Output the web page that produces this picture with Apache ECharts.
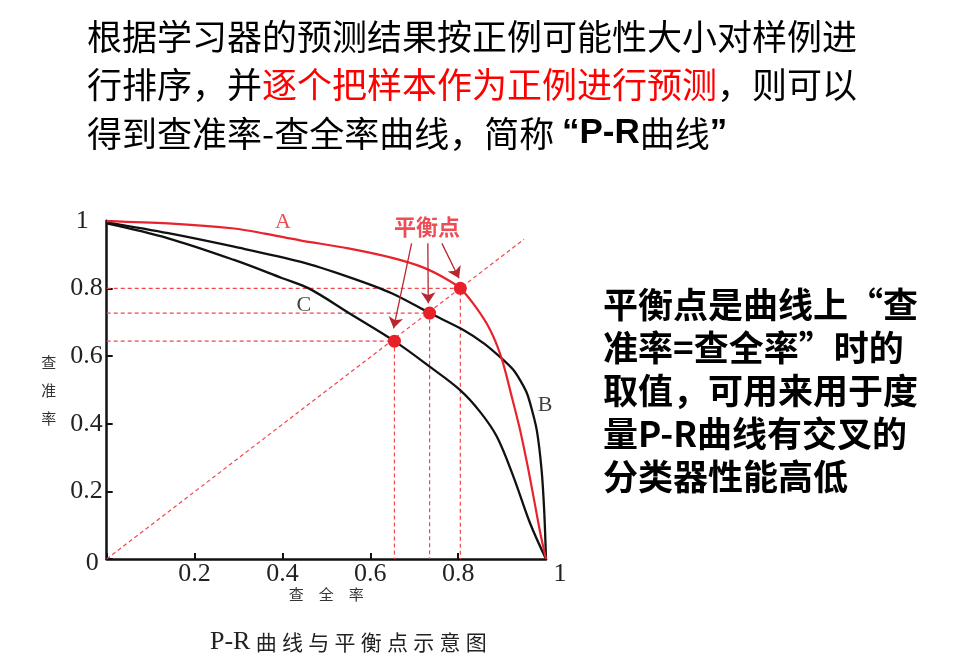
<!DOCTYPE html>
<html>
<head>
<meta charset="utf-8">
<script src="https://cdn.jsdelivr.net/npm/echarts@6/dist/echarts.min.js"></script>
<style>
  html, body { margin: 0; padding: 0; background: #fff; }
  #main { width: 964px; height: 657px; }
</style>
</head>
<body>
<div id="main"></div>
<script>
// P-R 曲线数据 (查全率, 查准率)
const curveA = [[0,0.999],[0.14,0.992],[0.29,0.977],[0.36,0.962],[0.44,0.942],[0.55,0.918],[0.65,0.89],[0.72,0.862],[0.77,0.83],[0.805,0.80],[0.84,0.745],[0.873,0.677],[0.899,0.593],[0.922,0.48],[0.941,0.381],[0.96,0.263],[0.975,0.16],[0.988,0.07],[1,0]];
const curveB = [[0,0.995],[0.14,0.963],[0.29,0.923],[0.44,0.879],[0.55,0.834],[0.65,0.785],[0.735,0.727],[0.812,0.677],[0.86,0.636],[0.899,0.593],[0.925,0.56],[0.941,0.529],[0.955,0.495],[0.964,0.46],[0.979,0.381],[0.99,0.263],[0.996,0.14],[1,0]];
const curveC = [[0,0.992],[0.14,0.948],[0.29,0.884],[0.40,0.83],[0.46,0.80],[0.554,0.725],[0.655,0.644],[0.736,0.568],[0.804,0.50],[0.85,0.435],[0.888,0.362],[0.926,0.243],[0.964,0.105],[1,0]];
// 平衡点
const balancePts = [[0.805,0.80],[0.735,0.727],[0.655,0.644]];
const diagonal = [[0,0],[0.95,0.945]];
const arrowStarts = [[0.694,0.933],[0.731,0.933],[0.763,0.933]];
const arrowEnds = [[0.653,0.682],[0.732,0.756],[0.802,0.830]];
const curveNames = ['A','B','C'];
const curveNamePos = [[0.401,0.996],[0.998,0.455],[0.449,0.751]];
const balanceLabelPos = [0.729,0.981];

const titleLines = [
  '根据学习器的预测结果按正例可能性大小对样例进',
  '行排序，并{r|逐个把样本作为正例进行预测}，则可以',
  '得到查准率-查全率曲线，简称 {b|“P-R}曲线{b|”}'
];
const noteLines = [
  '平衡点是曲线上“查',
  '准率=查全率”时的',
  '取值，可用来用于度',
  '量P-R曲线有交叉的',
  '分类器性能高低'
];
const captionChars = ['曲','线','与','平','衡','点','示','意','图'];

const chart = echarts.init(document.getElementById('main'));
const cjk = '"Noto Sans CJK SC", sans-serif';
const serif = '"Liberation Serif", "DejaVu Serif", serif';
const red = '#e8202a';
const dashRed = '#f0474e';

// 虚线：平衡点到坐标轴
const guideSeries = balancePts.map(function (p) {
  return {
    type: 'line', data: [[0, p[1]], [p[0], p[1]], [p[0], 0]],
    symbol: 'none', silent: true, z: 1,
    lineStyle: { color: dashRed, width: 1.2, type: [4, 3] }
  };
});

const graphics = [];
titleLines.forEach(function (t, i) {
  graphics.push({
    type: 'text', left: 87, top: 40 + i * 48.5 - 21,
    style: {
      text: t, fill: '#000', font: '35px ' + cjk,
      rich: {
        r: { fill: '#ff0000', font: '35px ' + cjk },
        b: { fill: '#000', font: 'bold 35px Arial, "Liberation Sans", ' + cjk }
      }
    }
  });
});
noteLines.forEach(function (t, i) {
  graphics.push({
    type: 'text', left: 603, top: 308 + i * 43 - 21,
    style: { text: t, fill: '#000', font: 'bold 35px ' + cjk }
  });
});
graphics.push({
  type: 'text', left: 210, top: 629,
  style: {
    text: '{p|P-R}\u2005' + captionChars.join('\u2005'),
    fill: '#222', font: '21px ' + cjk,
    rich: { p: { font: '26px ' + serif, fill: '#222' } }
  }
});

const option = {
  backgroundColor: '#fff',
  animation: false,
  grid: { left: 106.7, right: 418, top: 220.7, bottom: 98 },
  xAxis: {
    type: 'value', min: 0, max: 1, interval: 0.2,
    name: '查\u3000全\u3000率', nameLocation: 'middle', nameGap: 28, nameMoveOverlap: false,
    nameTextStyle: { fontFamily: cjk, fontSize: 15, color: '#333' },
    axisLine: { lineStyle: { color: '#111', width: 2.5 } },
    axisTick: { inside: true, length: 6, lineStyle: { color: '#111', width: 2 } },
    splitLine: { show: false },
    axisLabel: {
      margin: 2, fontFamily: serif, fontSize: 26, color: '#222',
      formatter: function (v) {
        if (v === 0) return '';
        if (v === 1) return '{one|1}';
        return v.toFixed(1);
      },
      rich: { one: { fontFamily: serif, fontSize: 26, color: '#222', padding: [0, 0, 0, 28] } }
    }
  },
  yAxis: {
    type: 'value', min: 0, max: 1, interval: 0.2,
    name: '查\n准\n率', nameLocation: 'middle', nameGap: 58, nameRotate: 0, nameMoveOverlap: false,
    nameTextStyle: { fontFamily: cjk, fontSize: 15, color: '#333', lineHeight: 28, align: 'center', padding: [24, 0, 0, 0] },
    axisLine: { lineStyle: { color: '#111', width: 2.5 } },
    axisTick: { inside: true, length: 6, lineStyle: { color: '#111', width: 2 } },
    splitLine: { show: false },
    axisLabel: {
      margin: 4, fontFamily: serif, fontSize: 26, color: '#222',
      formatter: function (v) {
        if (v === 1) return '{one|1}';
        if (v === 0) return '{zero|0}';
        return v.toFixed(1);
      },
      rich: {
        one: { fontFamily: serif, fontSize: 26, color: '#222', padding: [0, 14, 0, 0] },
        zero: { fontFamily: serif, fontSize: 26, color: '#222', padding: [8, 4, 0, 0] }
      }
    }
  },
  graphic: graphics,
  series: guideSeries.concat([
    {
      type: 'line', data: diagonal, symbol: 'none', silent: true, z: 1,
      lineStyle: { color: dashRed, width: 1.2, type: [4, 3] }
    },
    {
      name: 'C', type: 'line', data: curveC, symbol: 'none', smooth: 0.35, z: 3,
      lineStyle: { color: '#111', width: 2.3 }
    },
    {
      name: 'B', type: 'line', data: curveB, symbol: 'none', smooth: 0.3, z: 3,
      lineStyle: { color: '#111', width: 2.3 }
    },
    {
      name: 'A', type: 'line', data: curveA, symbol: 'none', smooth: 0.3, z: 4,
      lineStyle: { color: '#e8232b', width: 2.2 }
    },
    {
      type: 'lines', coordinateSystem: 'cartesian2d', z: 5,
      symbol: ['none', 'arrow'], symbolSize: 11,
      lineStyle: { color: '#b8262f', width: 1.3, opacity: 1 },
      data: arrowStarts.map(function (s, i) { return { coords: [s, arrowEnds[i]] }; })
    },
    {
      type: 'scatter', data: balancePts, symbolSize: 13, z: 6,
      itemStyle: { color: red, opacity: 1 }
    },
    {
      type: 'scatter', symbolSize: 0, z: 7, silent: true,
      data: curveNames.map(function (n, i) {
        return { name: n, value: curveNamePos[i], label: { color: n === 'A' ? '#e42027' : '#111' } };
      }),
      label: { show: true, position: 'inside', fontFamily: serif, fontSize: 22, formatter: '{b}' },
      itemStyle: { color: 'transparent' }
    },
    {
      type: 'scatter', symbolSize: 0, z: 7, silent: true,
      data: [{ name: '平衡点', value: balanceLabelPos }],
      label: {
        show: true, position: 'inside', fontFamily: cjk, fontSize: 22, fontWeight: 'bold',
        color: red, formatter: '{b}'
      },
      itemStyle: { color: 'transparent' }
    }
  ])
};
chart.setOption(option);
</script>
</body>
</html>
